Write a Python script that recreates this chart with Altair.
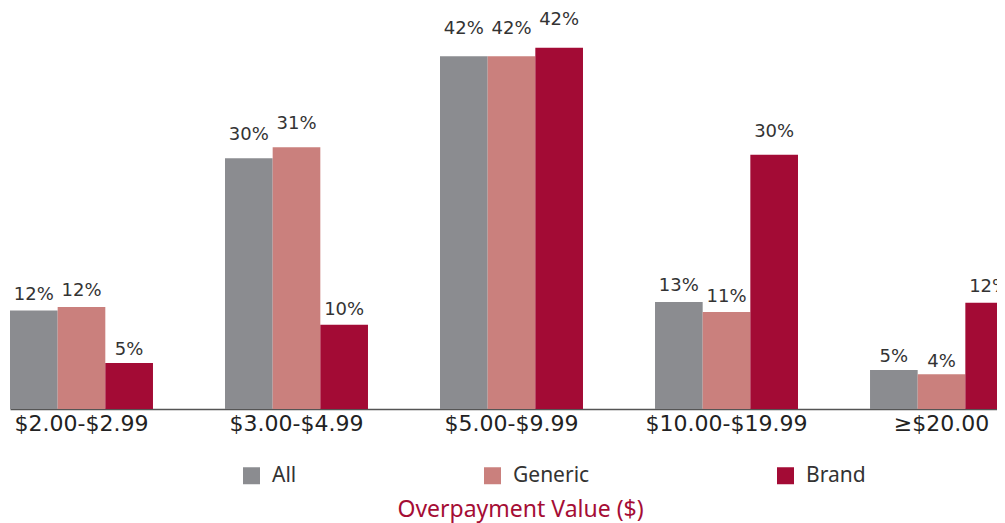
import altair as alt
import pandas as pd

categories = ["$2.00-$2.99", "$3.00-$4.99", "$5.00-$9.99", "$10.00-$19.99", "≥$20.00"]
series = ["All", "Generic", "Brand"]
all_vals = [11.6, 29.5, 41.5, 12.6, 4.6]
generic_vals = [12.0, 30.8, 41.5, 11.4, 4.1]
brand_vals = [5.4, 9.9, 42.5, 29.9, 12.5]
all_labels = ["12%", "30%", "42%", "13%", "5%"]
generic_labels = ["12%", "31%", "42%", "11%", "4%"]
brand_labels = ["5%", "10%", "42%", "30%", "12%"]
colors = ["#8B8C90", "#CA807D", "#A30B35"]

rows = []
for s, vals, labs in zip(series, [all_vals, generic_vals, brand_vals],
                         [all_labels, generic_labels, brand_labels]):
    for c, v, l in zip(categories, vals, labs):
        rows.append({"cat": c, "series": s, "value": v, "label": l})
df = pd.DataFrame(rows)

x_enc = alt.X("cat:N", sort=categories, title=None,
              scale=alt.Scale(paddingInner=0.335, paddingOuter=0),
              axis=alt.Axis(labelAngle=0, ticks=False, domainColor="#555555", domainWidth=1.5,
                            labelFontSize=22, labelFont="DejaVu Sans", labelColor="#222222",
                            labelPadding=4, grid=False))
xo_enc = alt.XOffset("series:N", sort=series, scale=alt.Scale(paddingInner=0, paddingOuter=0))

base = alt.Chart(df)

bars = base.mark_bar().encode(
    x=x_enc,
    xOffset=xo_enc,
    y=alt.Y("value:Q", scale=alt.Scale(domain=[0, 47.18], nice=False, zero=True), axis=None),
    color=alt.Color("series:N", sort=series,
                    scale=alt.Scale(domain=series, range=colors),
                    legend=alt.Legend(orient="none", legendX=231, legendY=457,
                                      direction="horizontal", title=None,
                                      symbolType="square", symbolSize=289,
                                      symbolStrokeWidth=0, labelFontSize=21,
                                      labelFont="Noto Sans", labelColor="#333333",
                                      columnPadding=185, labelOffset=10, padding=0)),
)

labels = base.mark_text(fontSize=18, font="DejaVu Sans", color="#333333",
                        baseline="middle", dy=-11).encode(
    x=x_enc,
    xOffset=xo_enc,
    y=alt.Y("value:Q", scale=alt.Scale(domain=[0, 45.06], nice=False, zero=True), axis=None),
    text="label:N",
)

chart = alt.layer(bars, labels).resolve_scale(y="independent").properties(
    width=1003,
    height=401,
    padding={"left": 2, "top": 0, "right": -16, "bottom": 114},
    autosize=alt.AutoSizeParams(type="none"),
    title=alt.TitleParams("Overpayment Value ($)", orient="bottom", anchor="middle",
                          color="#A50D35", fontSize=23, font="Noto Sans",
                          fontWeight="normal", offset=13, dx=9),
).configure_view(stroke=None)

chart.save("out.html", embed_options={"renderer": "svg", "actions": False})
